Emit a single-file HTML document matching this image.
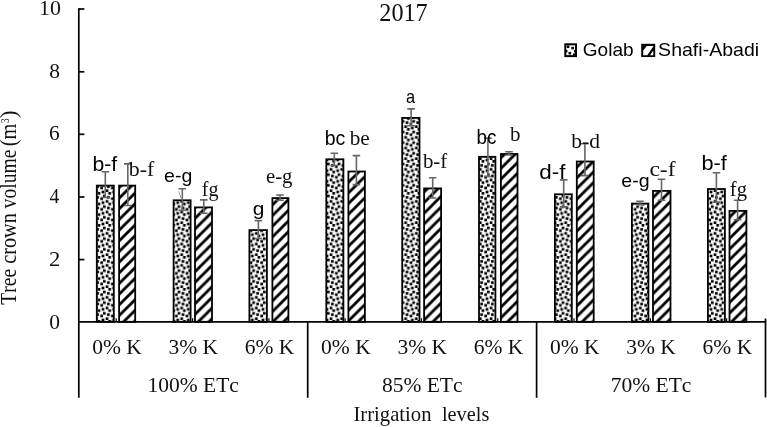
<!DOCTYPE html>
<html><head><meta charset="utf-8"><title>chart</title>
<style>
html,body{margin:0;padding:0;background:#fff;}
body{width:767px;height:427px;overflow:hidden;}
svg{display:block;filter:grayscale(1);}
text{font-kerning:none;}
.se{font-family:"Liberation Serif",serif;fill:#111;}
.sa{font-family:"Liberation Sans",sans-serif;fill:#000;}
</style></head><body>
<svg width="767" height="427" viewBox="0 0 767 427">
<defs>
<pattern id="dots" width="10.6667" height="10.6667" patternUnits="userSpaceOnUse" patternTransform="translate(7,0)">
<rect width="11" height="11" fill="#fff"/>
<g fill="#000">
<rect x="5.333" y="0.000" width="2.667" height="2.667"/>
<rect x="0.000" y="2.667" width="2.667" height="2.667"/>
<rect x="4.000" y="4.000" width="2.667" height="2.667"/>
<rect x="8.000" y="5.333" width="2.667" height="2.667"/>
<rect x="2.667" y="8.000" width="2.667" height="2.667"/>
<rect x="9.333" y="9.333" width="1.333" height="1.333"/>
<rect x="0.000" y="9.333" width="1.333" height="1.333"/>
<rect x="9.333" y="0.000" width="1.333" height="1.333"/>
<rect x="0.000" y="0.000" width="1.333" height="1.333"/>
</g>
</pattern>
<pattern id="hatch" width="8" height="8" patternUnits="userSpaceOnUse" patternTransform="translate(0,-2.6) scale(1.33333)">
<rect width="8" height="8" fill="#fff"/>
<path d="M-1,9 L9,-1 M-9,9 L1,-1 M7,9 L17,-1" stroke="#000" stroke-width="2.12"/>
</pattern>
</defs>
<rect width="767" height="427" fill="#fff"/>

<g stroke="#000" stroke-width="1.7" fill="none">
<path d="M78.8,8.2 V397.8"/>
<path d="M78.8,321.8 H766.3"/>
<path d="M78.8,259.6 h5.6"/>
<path d="M78.8,197.0 h5.6"/>
<path d="M78.8,134.3 h5.6"/>
<path d="M78.8,71.8 h5.6"/>
<path d="M78.8,9.0 h5.6"/>
<path d="M307.7,321.8 V397.8"/>
<path d="M536.6,321.8 V397.8"/>
<path d="M765.5,318.5 V397.5"/>
</g>
<rect x="96.80" y="185.60" width="17.00" height="136.20" fill="url(#dots)" stroke="#000" stroke-width="1.8"/>
<path d="M105.30,171.7 V197.5 M101.50,171.7 h7.6 M101.50,197.5 h7.6" stroke="#666" stroke-width="1.6" fill="none"/>
<rect x="119.10" y="185.60" width="16.10" height="136.20" fill="url(#hatch)" stroke="#000" stroke-width="1.8"/>
<path d="M127.80,163.9 V205.5 M124.00,163.9 h7.6 M124.00,205.5 h7.6" stroke="#666" stroke-width="1.6" fill="none"/>
<rect x="173.60" y="200.30" width="17.00" height="121.50" fill="url(#dots)" stroke="#000" stroke-width="1.8"/>
<path d="M182.30,188.8 V210.3 M178.50,188.8 h7.6 M178.50,210.3 h7.6" stroke="#666" stroke-width="1.6" fill="none"/>
<rect x="195.00" y="207.40" width="17.00" height="114.40" fill="url(#hatch)" stroke="#000" stroke-width="1.8"/>
<path d="M203.80,199.9 V213.3 M200.00,199.9 h7.6 M200.00,213.3 h7.6" stroke="#666" stroke-width="1.6" fill="none"/>
<rect x="249.40" y="230.10" width="17.50" height="91.70" fill="url(#dots)" stroke="#000" stroke-width="1.8"/>
<path d="M258.40,220.6 V238.5 M254.60,220.6 h7.6 M254.60,238.5 h7.6" stroke="#666" stroke-width="1.6" fill="none"/>
<rect x="272.40" y="198.10" width="16.00" height="123.70" fill="url(#hatch)" stroke="#000" stroke-width="1.8"/>
<path d="M280.00,195.0 V200.3 M276.20,195.0 h7.6 M276.20,200.3 h7.6" stroke="#666" stroke-width="1.6" fill="none"/>
<rect x="326.30" y="159.30" width="17.10" height="162.50" fill="url(#dots)" stroke="#000" stroke-width="1.8"/>
<path d="M334.30,153.3 V165.5 M330.50,153.3 h7.6 M330.50,165.5 h7.6" stroke="#666" stroke-width="1.6" fill="none"/>
<rect x="348.40" y="171.50" width="16.50" height="150.30" fill="url(#hatch)" stroke="#000" stroke-width="1.8"/>
<path d="M356.40,155.6 V184.6 M352.60,155.6 h7.6 M352.60,184.6 h7.6" stroke="#666" stroke-width="1.6" fill="none"/>
<rect x="402.20" y="117.90" width="17.30" height="203.90" fill="url(#dots)" stroke="#000" stroke-width="1.8"/>
<path d="M411.10,108.9 V125.7 M407.30,108.9 h7.6 M407.30,125.7 h7.6" stroke="#666" stroke-width="1.6" fill="none"/>
<rect x="424.10" y="188.40" width="17.00" height="133.40" fill="url(#hatch)" stroke="#000" stroke-width="1.8"/>
<path d="M432.70,177.7 V198.0 M428.90,177.7 h7.6 M428.90,198.0 h7.6" stroke="#666" stroke-width="1.6" fill="none"/>
<rect x="479.00" y="156.80" width="16.40" height="165.00" fill="url(#dots)" stroke="#000" stroke-width="1.8"/>
<path d="M487.90,138.1 V176.5 M484.10,138.1 h7.6 M484.10,176.5 h7.6" stroke="#666" stroke-width="1.6" fill="none"/>
<rect x="500.90" y="154.00" width="16.60" height="167.80" fill="url(#hatch)" stroke="#000" stroke-width="1.8"/>
<path d="M509.00,151.8 V155.0 M505.20,151.8 h7.6 M505.20,155.0 h7.6" stroke="#666" stroke-width="1.6" fill="none"/>
<rect x="554.90" y="194.30" width="16.90" height="127.50" fill="url(#dots)" stroke="#000" stroke-width="1.8"/>
<path d="M563.70,179.9 V206.9 M559.90,179.9 h7.6 M559.90,206.9 h7.6" stroke="#666" stroke-width="1.6" fill="none"/>
<rect x="576.80" y="161.50" width="16.90" height="160.30" fill="url(#hatch)" stroke="#000" stroke-width="1.8"/>
<path d="M584.90,143.7 V175.6 M581.10,143.7 h7.6 M581.10,175.6 h7.6" stroke="#666" stroke-width="1.6" fill="none"/>
<rect x="631.90" y="203.60" width="16.50" height="118.20" fill="url(#dots)" stroke="#000" stroke-width="1.8"/>
<path d="M640.00,201.2 V204.6 M636.20,201.2 h7.6 M636.20,204.6 h7.6" stroke="#666" stroke-width="1.6" fill="none"/>
<rect x="653.00" y="190.90" width="17.50" height="130.90" fill="url(#hatch)" stroke="#000" stroke-width="1.8"/>
<path d="M661.50,179.3 V200.3 M657.70,179.3 h7.6 M657.70,200.3 h7.6" stroke="#666" stroke-width="1.6" fill="none"/>
<rect x="707.90" y="189.00" width="17.00" height="132.80" fill="url(#dots)" stroke="#000" stroke-width="1.8"/>
<path d="M716.40,172.7 V202.1 M712.60,172.7 h7.6 M712.60,202.1 h7.6" stroke="#666" stroke-width="1.6" fill="none"/>
<rect x="729.50" y="210.90" width="16.90" height="110.90" fill="url(#hatch)" stroke="#000" stroke-width="1.8"/>
<path d="M737.60,200.2 V219.8 M733.80,200.2 h7.6 M733.80,219.8 h7.6" stroke="#666" stroke-width="1.6" fill="none"/>
<path d="M116.2,318.2 V321.8" stroke="#000" stroke-width="1.2"/>
<path d="M192.6,318.2 V321.8" stroke="#000" stroke-width="1.2"/>
<path d="M268.9,318.2 V321.8" stroke="#000" stroke-width="1.2"/>
<path d="M345.2,318.2 V321.8" stroke="#000" stroke-width="1.2"/>
<path d="M421.5,318.2 V321.8" stroke="#000" stroke-width="1.2"/>
<path d="M497.8,318.2 V321.8" stroke="#000" stroke-width="1.2"/>
<path d="M574.0,318.2 V321.8" stroke="#000" stroke-width="1.2"/>
<path d="M650.4,318.2 V321.8" stroke="#000" stroke-width="1.2"/>
<path d="M726.6,318.2 V321.8" stroke="#000" stroke-width="1.2"/>
<path d="M178.8,191.4 L181.1,198.2" stroke="#999" stroke-width="1" fill="none"/>
<text class="sa" transform="translate(92.53,170.90) scale(1.0705,1)" font-size="19.8">b-f</text>
<text class="se" transform="translate(128.80,176.40) scale(1.0172,1)" font-size="21.5">b-f</text>
<text class="sa" transform="translate(164.07,182.30) scale(1.0834,1)" font-size="18.0">e-g</text>
<text class="se" transform="translate(201.78,195.90) scale(0.9324,1)" font-size="21.5">fg</text>
<text class="sa" transform="translate(252.82,215.30) scale(1.1612,1)" font-size="18.0">g</text>
<text class="se" transform="translate(265.99,183.40) scale(0.9655,1)" font-size="21.5">e-g</text>
<text class="sa" transform="translate(324.64,144.90) scale(0.9836,1)" font-size="19.8">bc</text>
<text class="se" transform="translate(349.70,144.90) scale(0.9873,1)" font-size="21.5">be</text>
<text class="sa" transform="translate(405.91,103.00) scale(0.9085,1)" font-size="18.0">a</text>
<text class="se" transform="translate(422.90,168.40) scale(0.9733,1)" font-size="21.5">b-f</text>
<text class="sa" transform="translate(476.48,143.70) scale(0.9522,1)" font-size="19.8">bc</text>
<text class="se" transform="translate(510.00,140.50) scale(0.9767,1)" font-size="21.5">b</text>
<text class="sa" transform="translate(539.36,179.30) scale(1.1343,1)" font-size="19.8">d-f</text>
<text class="se" transform="translate(571.20,147.50) scale(1.0036,1)" font-size="21.5">b-d</text>
<text class="sa" transform="translate(621.37,186.60) scale(1.0876,1)" font-size="18.0">e-g</text>
<text class="se" transform="translate(649.40,175.90) scale(1.0979,1)" font-size="21.5">c-f</text>
<text class="sa" transform="translate(701.50,169.90) scale(1.0979,1)" font-size="19.8">b-f</text>
<text class="se" transform="translate(729.87,196.00) scale(0.9561,1)" font-size="21.5">fg</text>
<text class="se" transform="translate(49.18,328.60) scale(0.9986,1)" font-size="21.5">0</text>
<text class="se" transform="translate(49.00,266.00) scale(1.0558,1)" font-size="21.5">2</text>
<text class="se" transform="translate(49.62,202.90) scale(0.9105,1)" font-size="21.5">4</text>
<text class="se" transform="translate(49.08,140.30) scale(0.9907,1)" font-size="21.5">6</text>
<text class="se" transform="translate(49.18,77.90) scale(0.9986,1)" font-size="21.5">8</text>
<text class="se" transform="translate(38.98,14.70) scale(1.0164,1)" font-size="21.5">10</text>
<text class="se" x="403.5" y="21" font-size="24.2" text-anchor="middle">2017</text>
<text class="se" transform="translate(16.4,304.75) rotate(-90) scale(1.0033,1.13)" font-size="19.5" y="0">Tree</text>
<text class="se" transform="translate(16.4,263.87) rotate(-90) scale(1.0421,1.13)" font-size="19.5" y="0">crown</text>
<text class="se" transform="translate(16.4,208.40) rotate(-90) scale(1.0049,1.13)" font-size="19.5" y="0">volume</text>
<text class="se" transform="translate(16.4,146.29) rotate(-90) scale(1.0439,1.13)" font-size="19.5" y="0">(m</text>
<text class="se" transform="translate(9.4,123.04) rotate(-90) scale(0.7999,1.13)" font-size="11.5" y="0">3</text>
<text class="se" transform="translate(16.4,118.27) rotate(-90) scale(1.2180,1.13)" font-size="19.5" y="0">)</text>
<text class="se" x="117.0" y="354" font-size="21.5" text-anchor="middle">0% K</text>
<text class="se" x="193.2" y="354" font-size="21.5" text-anchor="middle">3% K</text>
<text class="se" x="269.6" y="354" font-size="21.5" text-anchor="middle">6% K</text>
<text class="se" x="345.9" y="354" font-size="21.5" text-anchor="middle">0% K</text>
<text class="se" x="422.2" y="354" font-size="21.5" text-anchor="middle">3% K</text>
<text class="se" x="498.5" y="354" font-size="21.5" text-anchor="middle">6% K</text>
<text class="se" x="574.8" y="354" font-size="21.5" text-anchor="middle">0% K</text>
<text class="se" x="651.1" y="354" font-size="21.5" text-anchor="middle">3% K</text>
<text class="se" x="727.4" y="354" font-size="21.5" text-anchor="middle">6% K</text>
<text class="se" x="193.2" y="391.5" font-size="21.5" text-anchor="middle">100% ETc</text>
<text class="se" x="422.2" y="391.5" font-size="21.5" text-anchor="middle">85% ETc</text>
<text class="se" x="651.1" y="391.5" font-size="21.5" text-anchor="middle">70% ETc</text>
<text class="se" transform="translate(353.45,421.10) scale(0.9614,1)" font-size="21.5">Irrigation</text>
<text class="se" transform="translate(441.89,421.10) scale(0.9460,1)" font-size="21.5">levels</text>
<rect x="565.3" y="44.3" width="10.7" height="11.8" fill="#fff" stroke="#000" stroke-width="2"/>
<g fill="#000"><rect x="566.8" y="45.4" width="2.6" height="2.6"/><rect x="571.3" y="46.8" width="2.6" height="2.6"/><rect x="568.5" y="51.9" width="2.6" height="2.6"/><rect x="565.5" y="50" width="1.9" height="2.4"/><rect x="574" y="50" width="1.9" height="2.4"/><rect x="573" y="53.4" width="3" height="2"/></g>
<text class="sa" transform="translate(582.74,56.40) scale(1.0031,1)" font-size="19">Golab</text>
<rect x="641.2" y="43.8" width="14" height="13.2" fill="#000"/>
<path d="M643.2,55.3 V50.6 L646.8,45.9 H652.6 L653.3,46.4 L647.3,55.3 Z M650,55.3 H653.3 V50.6 Z" fill="#fff"/>
<text class="sa" transform="translate(658.11,56.40) scale(1.0283,1)" font-size="19">Shafi-Abadi</text>
</svg></body></html>
